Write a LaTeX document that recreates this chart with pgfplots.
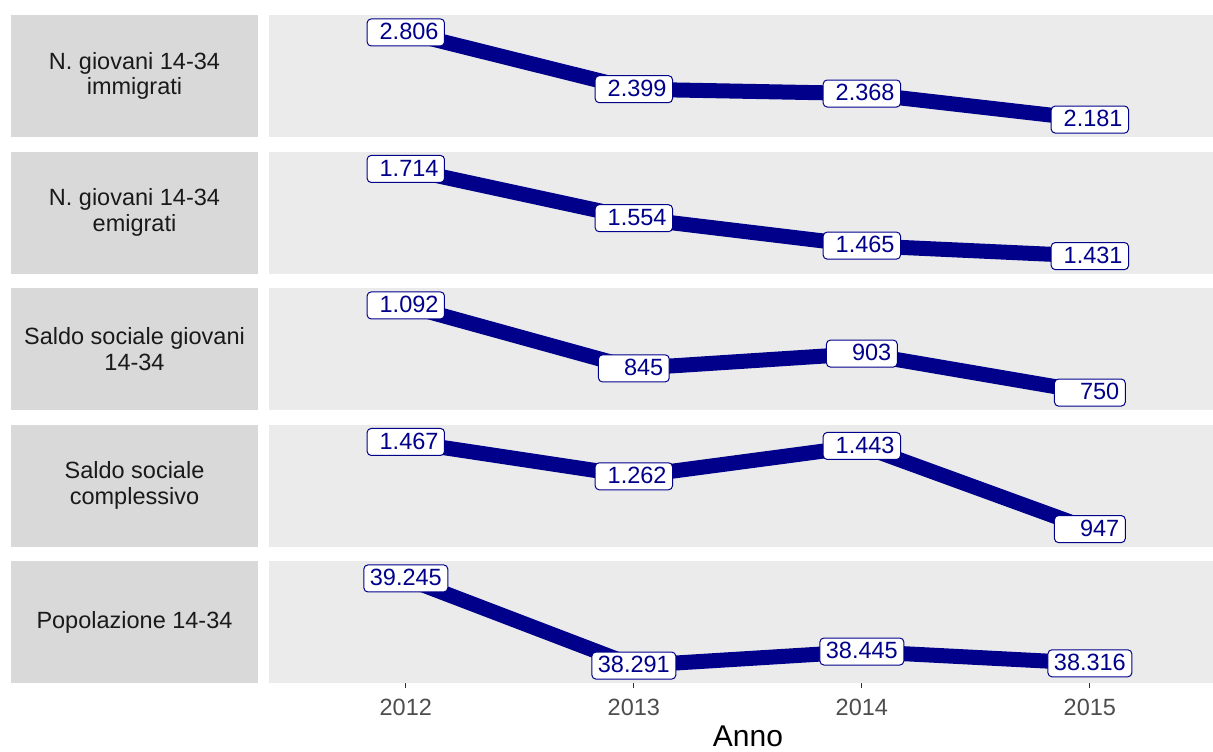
\documentclass[border=0pt]{standalone}
\usepackage{fontspec}
\setmainfont{Liberation Sans}
\usepackage{pgfplots}
\pgfplotsset{compat=1.18}

\definecolor{panelbg}{HTML}{EBEBEB}
\definecolor{stripbg}{HTML}{D9D9D9}
\definecolor{linecol}{HTML}{00008B}
\definecolor{ticklab}{HTML}{4D4D4D}
\definecolor{striptxt}{HTML}{1A1A1A}
\newcommand*{\lsp}{\hspace*{0.278em}}
\newcommand*{\labfont}{\fontsize{11.75}{13}\selectfont}

% one facet panel (1px of the reference = 0.5pt)
\pgfplotsset{
  facet/.style={
    scale only axis, width=472pt, height=61pt,
    xmin=2011.4, xmax=2015.54,
    anchor=north west,
    axis background/.style={fill=panelbg},
    axis line style={draw=none},
    ytick=\empty, xtick={2012,2013,2014,2015}, xticklabels={},
    major tick length=0pt,
    clip=false,
    nodes near coords, point meta=explicit symbolic,
    every node near coord/.append style={anchor=center, fill=white, draw=linecol,
      line width=0.5pt, rounded corners=2pt, text=linecol, font=\labfont,
      inner xsep=3pt, inner ysep=1.75pt, text height=8.6pt, text depth=1.4pt},
  },
  dataline/.style={linecol, line width=7.5pt, line join=round, mark=none},
}

\begin{document}
\begin{tikzpicture}
\useasboundingbox (0,0) rectangle (606.5pt,-375.5pt);

% strips
\foreach \top/\txt in {7.5/{N. giovani 14-34\\immigrati},
                       75.75/{N. giovani 14-34\\emigrati},
                       144/{Saldo sociale giovani\\14-34},
                       212.25/{Saldo sociale\\complessivo},
                       280.5/{Popolazione 14-34}} {
  \fill[stripbg] (5.5pt,-\top pt) rectangle (129pt,-\top pt-61pt);
  \node[align=center, text=striptxt, font=\fontsize{11.75}{12.8}\selectfont]
    at (67.25pt,-\top pt-30.5pt) {\txt};
}

\begin{axis}[facet, at={(134.5pt,-7.5pt)}, ymin=2056, ymax=2931]
\addplot[dataline] coordinates {
  (2012,2806) [\lsp 2.806]
  (2013,2399) [\lsp 2.399]
  (2014,2368) [\lsp 2.368]
  (2015,2181) [\lsp 2.181]
};
\end{axis}

\begin{axis}[facet, at={(134.5pt,-75.75pt)}, ymin=1374.4, ymax=1770.6]
\addplot[dataline] coordinates {
  (2012,1714) [\lsp 1.714]
  (2013,1554) [\lsp 1.554]
  (2014,1465) [\lsp 1.465]
  (2015,1431) [\lsp 1.431]
};
\end{axis}

\begin{axis}[facet, at={(134.5pt,-144pt)}, ymin=681.6, ymax=1160.4]
\addplot[dataline] coordinates {
  (2012,1092) [\lsp 1.092]
  (2013,845)  [\lsp\lsp\lsp 845]
  (2014,903)  [\lsp\lsp\lsp 903]
  (2015,750)  [\lsp\lsp\lsp 750]
};
\end{axis}

\begin{axis}[facet, at={(134.5pt,-212.25pt)}, ymin=843, ymax=1571]
\addplot[dataline] coordinates {
  (2012,1467) [\lsp 1.467]
  (2013,1262) [\lsp 1.262]
  (2014,1443) [\lsp 1.443]
  (2015,947)  [\lsp\lsp\lsp 947]
};
\end{axis}

\begin{axis}[facet, at={(134.5pt,-280.5pt)}, ymin=38100.2, ymax=39435.8,
    xticklabels={2012,2013,2014,2015},
    xtick pos=left, tick align=outside, major tick length=2.5pt,
    xtick style={color=black!80, line width=0.6pt},
    xticklabel style={text=ticklab, font=\labfont, yshift=-1.8pt},
    /pgf/number format/assume math mode=true]
\addplot[dataline] coordinates {
  (2012,39245) [39.245]
  (2013,38291) [38.291]
  (2014,38445) [38.445]
  (2015,38316) [38.316]
};
\end{axis}

\node[anchor=base, font=\fontsize{15}{18}\selectfont] at (374pt,-373pt) {Anno};
\end{tikzpicture}
\end{document}
